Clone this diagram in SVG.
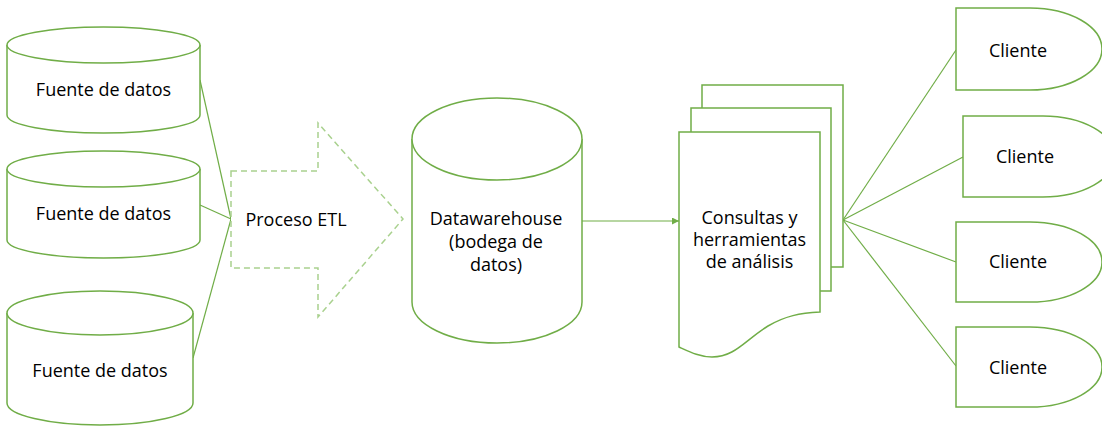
<svg xmlns="http://www.w3.org/2000/svg" width="1102" height="426" viewBox="0 0 1102 426">
  <style>
    .shape { fill: #ffffff; stroke: #70AD47; stroke-width: 1.5; }
    .etl { fill: #ffffff; stroke: #A9D18E; stroke-width: 1.5; stroke-dasharray: 6 4; }
    .link { fill: none; stroke: #70AD47; stroke-width: 1.2; }
    .label { font-family: "Open Sans", "Liberation Sans", sans-serif; font-size: 18px; fill: #000000; text-anchor: middle; }
  </style>
  <defs>
    <marker id="arrow" viewBox="0 0 10 10" refX="10" refY="5" markerWidth="7" markerHeight="7" orient="auto" markerUnits="userSpaceOnUse">
      <path d="M0,0 L10,5 L0,10 Z" fill="#70AD47"/>
    </marker>
  </defs>

  <!-- connectors -->
  <g id="connectors">
    <line class="link" x1="200" y1="80" x2="231" y2="219"/>
    <line class="link" x1="200" y1="205" x2="231" y2="219"/>
    <line class="link" x1="193" y1="358" x2="231" y2="219"/>
    <line class="link" x1="582" y1="221" x2="679" y2="221" marker-end="url(#arrow)"/>
    <line class="link" x1="843" y1="220" x2="956" y2="50"/>
    <line class="link" x1="843" y1="220" x2="963" y2="157"/>
    <line class="link" x1="843" y1="220" x2="956" y2="262"/>
    <line class="link" x1="843" y1="220" x2="956" y2="366"/>
  </g>

  <!-- data sources -->
  <g id="source1">
    <path class="shape" d="M7,45 L7,115 A96.5,18 0 0 0 200,115 L200,45 A96.5,18 0 0 0 7,45 Z"/>
    <path class="shape" fill="none" d="M7,45 A96.5,18 0 0 0 200,45"/>
    <text class="label" x="103.5" y="96">Fuente de datos</text>
  </g>
  <g id="source2">
    <path class="shape" d="M7,169 L7,240 A96.5,18 0 0 0 200,240 L200,169 A96.5,18 0 0 0 7,169 Z"/>
    <path class="shape" fill="none" d="M7,169 A96.5,18 0 0 0 200,169"/>
    <text class="label" x="103.5" y="220">Fuente de datos</text>
  </g>
  <g id="source3">
    <path class="shape" d="M7,313 L7,403 A93,22 0 0 0 193,403 L193,313 A93,22 0 0 0 7,313 Z"/>
    <path class="shape" fill="none" d="M7,313 A93,22 0 0 0 193,313"/>
    <text class="label" x="100" y="377">Fuente de datos</text>
  </g>

  <!-- ETL process -->
  <g id="etl">
    <path class="etl" d="M231,171 L318,171 L318,123 L403,219 L318,317 L318,268 L231,268 Z"/>
    <text class="label" x="296" y="226">Proceso ETL</text>
  </g>

  <!-- data warehouse -->
  <g id="warehouse">
    <path class="shape" d="M412,139 L412,302 A85,41 0 0 0 582,302 L582,139 A85,41 0 0 0 412,139 Z"/>
    <path class="shape" fill="none" d="M412,139 A85,41 0 0 0 582,139"/>
    <text class="label" x="496" y="225">Datawarehouse</text>
    <text class="label" x="496" y="248">(bodega de</text>
    <text class="label" x="496" y="271">datos)</text>
  </g>

  <!-- query and analysis tools -->
  <g id="tools">
    <path class="shape" d="M702,85 L843,85 L843,267 L702,267 Z"/>
    <path class="shape" d="M691,108 L831,108 L831,291 L691,291 Z"/>
    <path class="shape" d="M679,132 L820,132 L820,312 C800,313 785,316 768,326 C745,340 735,357 712,357 C700,357 690,352 679,347 Z"/>
    <text class="label" x="749.5" y="224">Consultas y</text>
    <text class="label" x="749.5" y="246">herramientas</text>
    <text class="label" x="749.5" y="268">de análisis</text>
  </g>

  <!-- clients -->
  <g id="client1">
    <path class="shape" d="M956,8 L1030,8 A72,41 0 0 1 1030,90 L956,90 Z"/>
    <text class="label" x="1018" y="57">Cliente</text>
  </g>
  <g id="client2">
    <path class="shape" d="M963,116 L1043,116 A72,40.5 0 0 1 1043,197 L963,197 Z"/>
    <text class="label" x="1025" y="163">Cliente</text>
  </g>
  <g id="client3">
    <path class="shape" d="M956,222 L1030,222 A72,40 0 0 1 1030,302 L956,302 Z"/>
    <text class="label" x="1018" y="268">Cliente</text>
  </g>
  <g id="client4">
    <path class="shape" d="M956,327 L1030,327 A72,40 0 0 1 1030,407 L956,407 Z"/>
    <text class="label" x="1018" y="374">Cliente</text>
  </g>
</svg>
